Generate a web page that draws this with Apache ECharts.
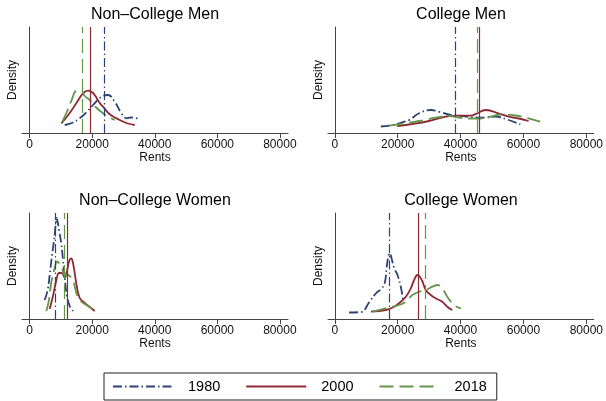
<!DOCTYPE html>
<html>
<head>
<meta charset="utf-8">
<script src="https://cdn.jsdelivr.net/npm/echarts@6/dist/echarts.min.js"></script>
<style>html,body{margin:0;padding:0;background:#fff}#c{width:606px;height:401px}</style>
</head>
<body>
<div id="c"></div>
<script>
const years = ['1980', '2000', '2018'];
const panelTitles = ['Non\u2013College Men', 'College Men', 'Non\u2013College Women', 'College Women'];
const xTicks = [0, 20000, 40000, 60000, 80000];

// kernel density curves: [rent, relative density]
const ncm1980 = [[11200,2],[13440,4],[16000,8.7],[18240,15],[20260,22],[21760,27],[23460,31.3],[25060,32],[27200,25.3],[29340,13.7],[30940,8.7],[32320,9.5],[33600,9.3],[35200,7]];
const ncm2000 = [[10140,3.7],[11840,10],[13860,18.7],[15360,26],[17060,33.7],[18660,36.3],[19840,35],[20800,32],[22400,24],[23460,20.3],[25600,12.7],[28800,7],[31360,3.5],[33600,2]];
const ncm2018 = [[10460,5.3],[12160,17],[13440,27],[14940,36],[16540,36],[17600,31],[19200,27],[21100,20],[23360,14],[25280,10],[27200,7]];

const cm1980 = [[14630,0.5],[17950,1.5],[20800,4],[23650,7],[26820,13.7],[30520,17],[33150,15.3],[36850,12],[39480,11.5],[42650,10],[47400,9.3],[51100,10.3],[55310,7],[59010,2.7]];
const cm2000 = [[19850,1],[24690,3],[29980,6],[35270,10.3],[38940,11.3],[43180,11.3],[45270,13.7],[47930,17],[51100,14.7],[55310,10.3],[58480,8.5],[61640,6]];
const cm2018 = [[17320,1.3],[22600,3.7],[26820,6],[32100,9.3],[36310,11],[39480,9.5],[42650,8.5],[45810,8.5],[48980,10],[53100,12.5],[57430,11.5],[61640,8.7],[65350,5.3]];

const ncw1980 = [[4800,13],[5760,23],[6400,38],[7040,55],[7680,70],[8160,83],[8540,95],[8960,91],[9380,83],[10080,70],[10660,53],[11200,36],[11840,18],[12800,7],[13860,2]];
const ncw2000 = [[6400,4],[7460,17],[8540,33],[9380,40],[10240,40],[11200,35.5],[11940,42],[12640,52],[13280,54.5],[13920,49],[14940,29],[16000,15],[17600,10],[19200,6],[20800,2]];
const ncw2018 = [[5340,2],[6180,13],[6940,31],[8000,45],[8800,51.5],[9600,49],[10400,44],[11200,38],[12260,38],[13120,36],[13860,33],[14940,20],[16000,13],[18140,8],[20800,3]];

const cw1980 = [[4560,0.5],[8450,1],[10990,11],[13200,20],[14790,24],[15890,30],[16530,46],[17000,56],[17480,60],[18110,54],[18900,45],[19950,38],[21020,26],[21590,16],[22070,10]];
const cw2000 = [[11520,1.3],[16270,3],[18900,6.3],[21020,11.3],[22600,16.3],[24190,24.7],[25230,33],[26280,38],[27670,33],[28940,23],[30520,18],[32100,14.7],[34190,11.3],[35780,6.3],[37360,3]];
const cw2018 = [[12030,1.3],[16270,4.7],[20480,8],[22600,11.3],[24690,18],[26820,21.3],[28940,23],[31030,26.3],[32610,28],[34190,24.7],[35780,16.3],[37900,8],[40110,4.7]];

// mean rents (vertical lines), order 1980, 2000, 2018
const meansNCM = [23780, 19520, 16860];
const meansCM = [38310, 46030, 45400];
const meansNCW = [8320, 12000, 11100];
const meansCW = [17220, 26500, 28820];

const panelCurves = [[ncm1980, ncm2000, ncm2018], [cm1980, cm2000, cm2018], [ncw1980, ncw2000, ncw2018], [cw1980, cw2000, cw2018]];
const panelMeans = [meansNCM, meansCM, meansNCW, meansCW];

const colors = ['#2a4274', '#8e2a34', '#65954a'];
const dashes = [[9, 3, 1.5, 3], 'solid', [14, 6]];
const FONT = 'Liberation Sans, Arial, Helvetica, sans-serif';

const gridPos = [
  {left: 22, top: 27, width: 266, height: 106, min: -2450, max: 82600, tx: 155, ty: 7},
  {left: 328, top: 27, width: 267, height: 106, min: -2150, max: 82350, tx: 461, ty: 7},
  {left: 22, top: 213, width: 266, height: 106, min: -2450, max: 82600, tx: 155, ty: 193},
  {left: 328, top: 213, width: 267, height: 106, min: -2150, max: 82350, tx: 461, ty: 193}
];

const grids = [], xAxes = [], yAxes = [], titles = [], series = [];
gridPos.forEach((g, i) => {
  grids.push({left: g.left, top: g.top, width: g.width, height: g.height});
  titles.push({text: panelTitles[i], left: g.tx, top: g.ty, textAlign: 'center', padding: 0,
    textStyle: {fontFamily: FONT, fontSize: 16, fontWeight: 'normal', color: '#000'}});
  xAxes.push({
    type: 'value', gridIndex: i, min: g.min, max: g.max,
    name: 'Rents', nameLocation: 'middle', nameGap: 19,
    nameTextStyle: {fontFamily: FONT, fontSize: 12, color: '#111'},
    axisLine: {show: true, onZero: false, lineStyle: {color: '#444', width: 1}},
    axisTick: {show: true, customValues: xTicks, length: 5, lineStyle: {color: '#444'}},
    axisLabel: {show: true, customValues: xTicks, margin: 6, fontFamily: FONT, fontSize: 12, color: '#111',
      formatter: v => String(v)},
    splitLine: {show: false}
  });
  yAxes.push({
    type: 'value', gridIndex: i, min: -6, max: 100,
    name: 'Density', nameLocation: 'middle', nameGap: 3,
    nameTextStyle: {fontFamily: FONT, fontSize: 12, color: '#111'},
    axisLine: {show: true, lineStyle: {color: '#444', width: 1}},
    axisTick: {show: false}, axisLabel: {show: false}, splitLine: {show: false}
  });
  years.forEach((yr, k) => {
    series.push({
      name: yr, type: 'line', xAxisIndex: i, yAxisIndex: i,
      data: panelCurves[i][k], smooth: 0.4, showSymbol: false, symbol: 'none',
      lineStyle: {color: colors[k], width: 1.8, type: dashes[k]},
      itemStyle: {color: colors[k]},
      markLine: {
        silent: true, symbol: ['none', 'none'], label: {show: false}, animation: false,
        lineStyle: {color: colors[k], width: 1.2, type: dashes[k]},
        data: [{xAxis: panelMeans[i][k]}]
      }
    });
  });
});

const chart = echarts.init(document.getElementById('c'), null, {renderer: 'canvas'});
chart.setOption({
  animation: false,
  backgroundColor: '#fff',
  title: titles,
  grid: grids,
  xAxis: xAxes,
  yAxis: yAxes,
  legend: {
    data: years, left: 104, top: 373, orient: 'horizontal',
    itemWidth: 60, itemHeight: 14, itemGap: 25,
    itemStyle: {opacity: 0},
    borderColor: '#222', borderWidth: 1, padding: [6, 10, 6, 8],
    textStyle: {fontFamily: FONT, fontSize: 14.5, color: '#000', padding: [0, 0, 0, 10]}
  },
  series: series
});
</script>
</body>
</html>
